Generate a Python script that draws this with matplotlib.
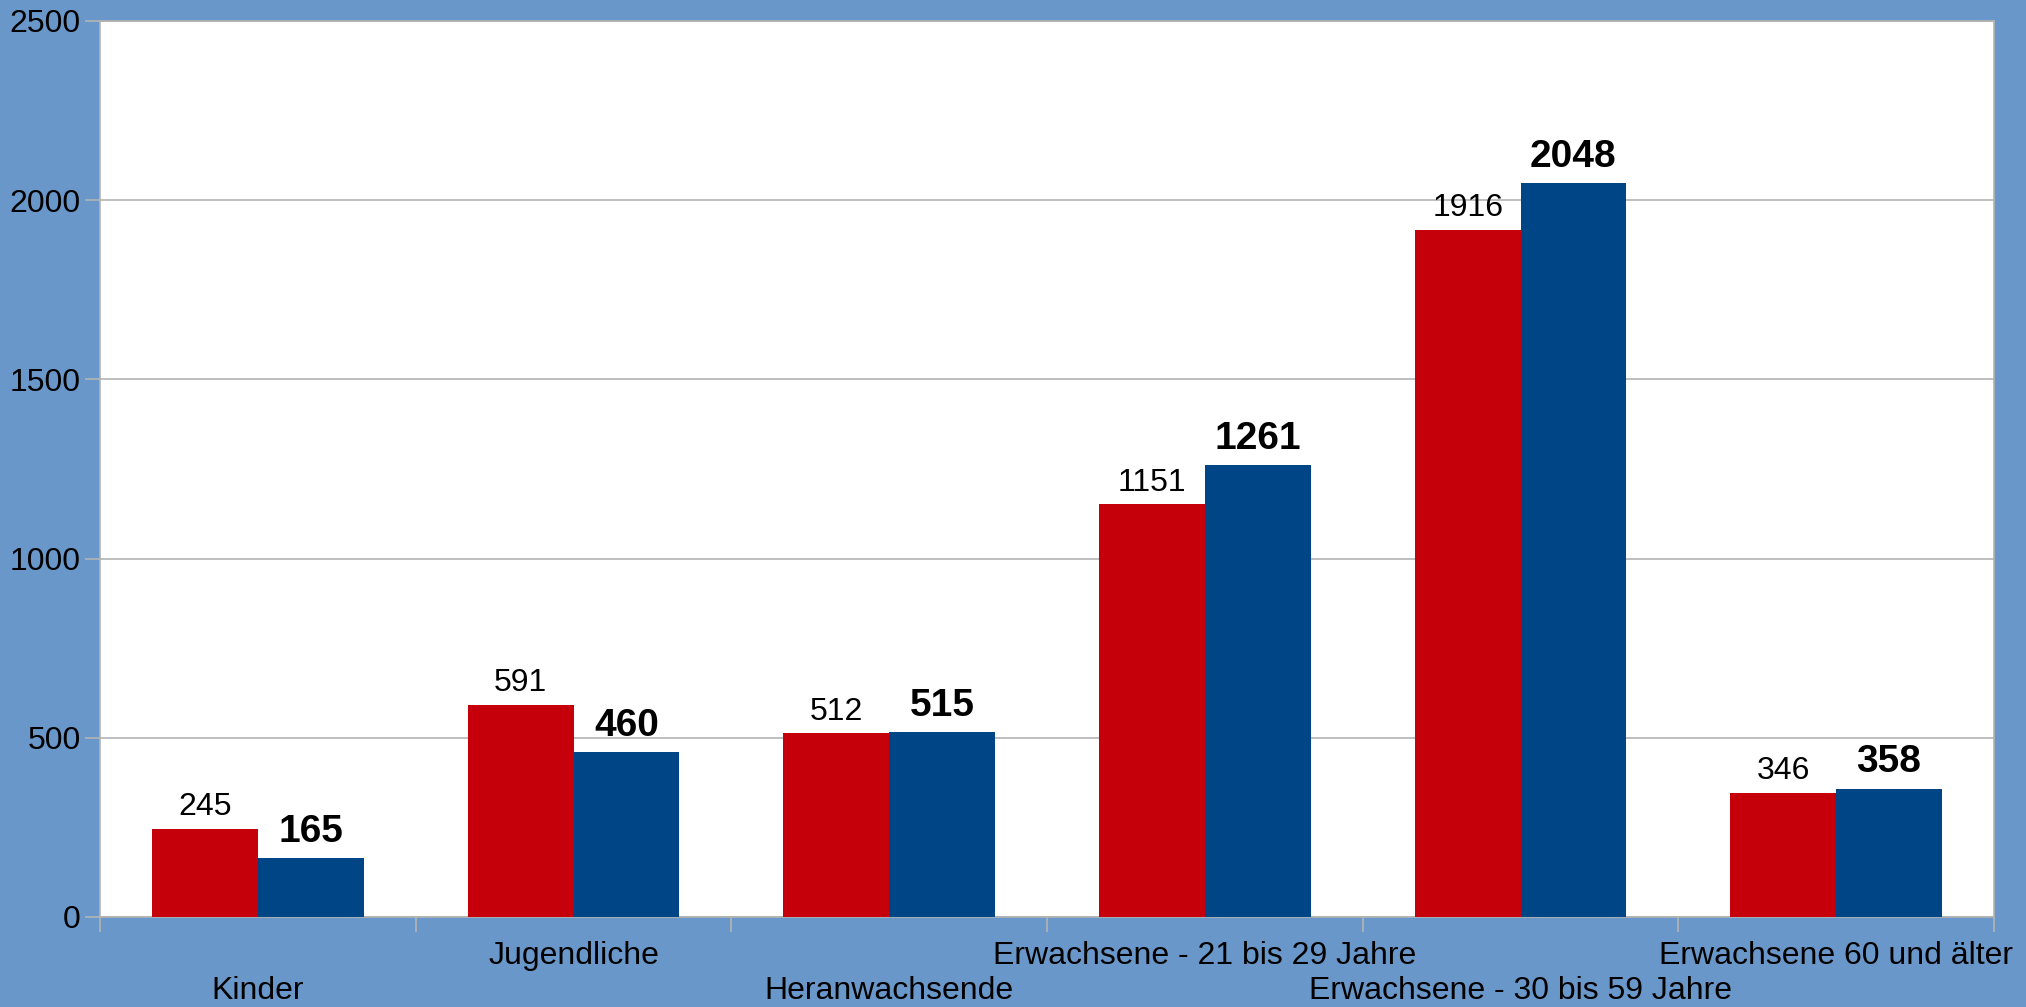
import matplotlib
matplotlib.use('Agg')
import matplotlib.pyplot as plt
import numpy as np

plt.rcParams['font.family'] = ['Liberation Sans', 'DejaVu Sans']

kategorien = ['Kinder', 'Jugendliche', 'Heranwachsende',
              'Erwachsene - 21 bis 29 Jahre', 'Erwachsene - 30 bis 59 Jahre',
              'Erwachsene 60 und älter']
werte_rot = [245, 591, 512, 1151, 1916, 346]
werte_blau = [165, 460, 515, 1261, 2048, 358]
y_ticks = [0, 500, 1000, 1500, 2000, 2500]

hintergrund = '#6a97c9'
rot = '#c5000b'
blau = '#004586'
grau = '#b3b3b3'

fig = plt.figure(figsize=(20.26, 10.07), dpi=100, facecolor=hintergrund)
ax = fig.add_axes([100/2026, 90/1007, 1894/2026, 896/1007])
ax.set_facecolor('white')

x = np.arange(len(kategorien))
b = 0.335
balken_rot = ax.bar(x - b/2, werte_rot, width=b, color=rot, zorder=3)
balken_blau = ax.bar(x + b/2, werte_blau, width=b, color=blau, zorder=3)

ax.bar_label(balken_rot, padding=5, fontsize=23)
ax.bar_label(balken_blau, padding=6, fontsize=28, fontweight='bold')

ax.set_xlim(-0.5, len(kategorien) - 0.5)
ax.set_ylim(0, 2500)
ax.set_yticks(y_ticks)
ax.yaxis.grid(True, color=grau, linewidth=1.2, zorder=0)

# Kategorien versetzt in zwei Zeilen
ax.set_xticks(x)
ax.set_xticklabels([])
ax.set_xticks(np.arange(len(kategorien) + 1) - 0.5, minor=True)
ax.tick_params(axis='x', which='major', length=0)
ax.tick_params(axis='x', which='minor', length=11, width=1.2, color=grau, direction='out')
ax.tick_params(axis='y', length=11, width=1.2, color=grau, labelsize=23, pad=3)
trans = ax.get_xaxis_transform()
for i, k in enumerate(kategorien):
    yy = -0.0435 if i % 2 else -0.0826
    ax.text(x[i], yy, k, transform=trans, ha='center', va='center', fontsize=23)

for s in ax.spines.values():
    s.set_color(grau)
    s.set_linewidth(1.2)

fig.savefig('out.png', dpi=100, facecolor=hintergrund)
